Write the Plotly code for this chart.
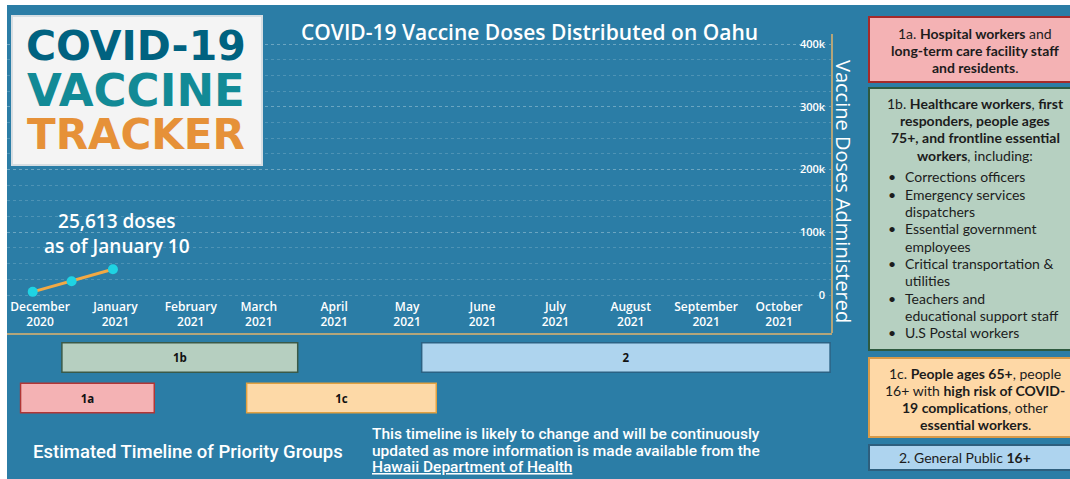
import plotly.graph_objects as go
import pandas as pd

W, H = 1070, 479

# ---------------- data ----------------
dose_dates = ["2020-12-12", "2020-12-28", "2021-01-14"]
doses = [5000, 22000, 41000]

month_ticks = ["2020-12-15", "2021-01-15", "2021-02-15", "2021-03-15", "2021-04-15",
               "2021-05-15", "2021-06-15", "2021-07-15", "2021-08-15", "2021-09-15",
               "2021-10-15"]
month_labels = ["December<br>2020", "January<br>2021", "February<br>2021", "March<br>2021",
                "April<br>2021", "May<br>2021", "June<br>2021", "July<br>2021",
                "August<br>2021", "September<br>2021", "October<br>2021"]
dose_ticks = [0, 100000, 200000, 300000, 400000]
dose_labels = ["0", "100k", "200k", "300k", "400k"]
minor_ticks = [25000 * i for i in range(1, 17)]

groups = ["1a", "1b", "1c", "2"]
group_start = ["2020-12-07", "2020-12-24", "2021-03-10", "2021-05-21"]
group_end = ["2021-01-31", "2021-03-31", "2021-05-27", "2021-11-05"]
group_row = [0, 1, 0, 1]
group_fill = ["#f4b2b4", "#b6cfc0", "#fdd9a7", "#aed4ee"]
group_border = ["#b03636", "#3a5a48", "#e0a040", "#2b6284"]

panel_1a = ["1a. <b>Hospital workers</b> and",
            "<b>long-term care facility staff</b>",
            "<b>and residents</b>."]
panel_1b = ["1b. <b>Healthcare workers</b>, <b>first</b>",
            "<b>responders, people ages</b>",
            "<b>75+, and frontline essential</b>",
            "<b>workers</b>, including:"]
bullets_1b = [("•", "Corrections officers"),
              ("•", "Emergency services"),
              ("", "dispatchers"),
              ("•", "Essential government"),
              ("", "employees"),
              ("•", "Critical transportation &"),
              ("", "utilities"),
              ("•", "Teachers and"),
              ("", "educational support staff"),
              ("•", "U.S Postal workers")]
panel_1c = ["1c. <b>People ages 65+</b>, people",
            "16+ with <b>high risk of COVID-</b>",
            "<b>19 complications</b>, other",
            "<b>essential workers</b>."]
panel_2 = ["2. General Public <b>16+</b>"]

note_lines = ["This timeline is likely to change and will be continuously",
              "updated as more information is made available from the",
              "<u>Hawaii Department of Health</u>"]

# ---------------- helpers ----------------
BG = "#2b7da6"
AXIS_LINE = "#b3a57a"
GRID = "rgba(255,255,255,0.17)"


def X(p):
    return p / W


def Y(p):
    return 1 - p / H


fig = go.Figure()

fig.add_trace(go.Scatter(
    x=dose_dates, y=doses, mode="lines+markers",
    line=dict(color="#f2a944", width=3),
    marker=dict(color="#1fd3e3", size=10),
    xaxis="x", yaxis="y", hoverinfo="skip"))

starts = pd.to_datetime(group_start)
ends = pd.to_datetime(group_end)
durations = [(e - s).total_seconds() * 1000 for s, e in zip(starts, ends)]

fig.add_trace(go.Bar(
    orientation="h", y=group_row, x=durations, base=group_start,
    width=0.73, text=groups, textposition="inside", insidetextanchor="middle",
    textangle=0, constraintext="none",
    textfont=dict(color="#111111", size=11.5, family="Open Sans", weight="bold"),
    marker=dict(color=group_fill, line=dict(color=group_border, width=1.5)),
    xaxis="x2", yaxis="y2", hoverinfo="skip"))

zero_px, per100k = 295, 62.75
plot_top, plot_bot = 34, 333
y_lo = -(plot_bot - zero_px) / per100k * 100000
y_hi = (zero_px - plot_top) / per100k * 100000

tickfont = dict(color="white", size=12, family="Open Sans", weight=600)

fig.update_layout(
    width=W, height=H, autosize=False,
    margin=dict(l=0, r=0, t=0, b=0),
    paper_bgcolor=BG, plot_bgcolor=BG,
    showlegend=False,
    xaxis=dict(domain=[X(7), X(832)], type="date",
               range=["2020-12-01 10:00", "2021-11-05 19:00"],
               tickmode="array", tickvals=month_ticks, ticktext=month_labels,
               ticklabelposition="inside", ticklabelstandoff=4, ticks="", showgrid=False,
               showline=True, linecolor=AXIS_LINE, linewidth=1.5,
               tickfont=tickfont, anchor="y", fixedrange=True),
    yaxis=dict(domain=[Y(plot_bot), Y(plot_top)], range=[y_lo, y_hi],
               anchor="free", position=X(832), side="left",
               tickmode="array", tickvals=dose_ticks, ticktext=dose_labels,
               ticks="", ticklabelstandoff=4,
               showgrid=True, gridcolor=GRID, griddash="dot", gridwidth=1,
               minor=dict(tickmode="array", tickvals=minor_ticks, showgrid=True,
                          gridcolor=GRID, griddash="dot", gridwidth=1),
               zeroline=False, showline=True, linecolor=AXIS_LINE, linewidth=1.5,
               tickfont=dict(color="white", size=11, family="Open Sans", weight=600),
               fixedrange=True),
    xaxis2=dict(domain=[X(7), X(832)], type="date", matches="x", visible=False,
                anchor="y2", fixedrange=True),
    yaxis2=dict(domain=[Y(418.25), Y(337.25)], range=[-0.5, 1.5], visible=False,
                anchor="x2", fixedrange=True),
)

shapes = []
# white page edges
shapes.append(dict(type="rect", xref="paper", yref="paper", x0=0, x1=1, y0=Y(5), y1=1,
                   fillcolor="white", line=dict(width=0), layer="above"))
shapes.append(dict(type="rect", xref="paper", yref="paper", x0=0, x1=X(7), y0=0, y1=1,
                   fillcolor="white", line=dict(width=0), layer="above"))
# logo box
shapes.append(dict(type="rect", xref="paper", yref="paper", x0=X(12), x1=X(262),
                   y0=Y(165), y1=Y(16), fillcolor="#f4f4f4",
                   line=dict(color="#d6dee3", width=2), layer="above"))
# right panels
panels = [(17, 82, "#f4b2b4", "#a52a2a"),
          (88, 350, "#b6d0c1", "#2e5a40"),
          (358, 437, "#fed8a6", "#d89a48"),
          (445, 470, "#aed4ef", "#2e5f7e")]
for top, bot, fill, border in panels:
    shapes.append(dict(type="rect", xref="paper", yref="paper", x0=X(869), x1=X(1082),
                       y0=Y(bot), y1=Y(top), fillcolor=fill,
                       line=dict(color=border, width=2), layer="above"))
fig.update_layout(shapes=shapes)

ann = []


def text(x, y, s, size, color="white", family="Open Sans", xanchor="center",
         weight=None, angle=0):
    f = dict(size=size, color=color, family=family)
    if weight is not None:
        f["weight"] = weight
    ann.append(dict(xref="paper", yref="paper", x=X(x), y=Y(y), text=s,
                    showarrow=False, xanchor=xanchor, yanchor="middle",
                    font=f, textangle=angle))


# logo
text(136, 46, "COVID-19", 41, color="#006280", family="DejaVu Sans", weight="bold")
text(136, 90, "VACCINE", 45, color="#128a96", family="DejaVu Sans", weight="bold")
text(136, 134, "TRACKER", 42, color="#e69138", family="DejaVu Sans", weight="bold")

# title
text(529, 32, "COVID-19 Vaccine Doses Distributed on Oahu", 21, weight=600)

# axis title
text(843, 191, "Vaccine Doses Administered", 20, angle=90, weight=500)

# annotation near last point
ann.append(dict(xref="x", yref="y", x=dose_dates[-1], y=doses[-1],
                text="25,613 doses<br>as of January 10", showarrow=False,
                xanchor="center", yanchor="middle", xshift=4, yshift=36,
                font=dict(size=19, color="white", family="Open Sans", weight=600)))

# bottom texts
text(188, 452, "Estimated Timeline of Priority Groups", 18.5, family="Roboto", weight=500)
for i, line in enumerate(note_lines):
    text(370, 434 + 16.5 * i, line, 15.5, family="Roboto", xanchor="left", weight=500)

# panels
PC = "#1c1c1c"
for i, line in enumerate(panel_1a):
    text(975, 33 + 17.5 * i, line, 14, color=PC, family="Lato")
for i, line in enumerate(panel_1b):
    text(975, 103 + 17.5 * i, line, 14, color=PC, family="Lato")
for i, (b, line) in enumerate(bullets_1b):
    yy = 177 + 17.3 * i
    if b:
        text(892, yy, b, 14, color=PC, family="Lato")
    text(903, yy, line, 14, color=PC, family="Lato", xanchor="left")
for i, line in enumerate(panel_1c):
    text(975, 373 + 17.3 * i, line, 14, color=PC, family="Lato")
for i, line in enumerate(panel_2):
    text(965, 457, line, 14, color=PC, family="Lato")

fig.update_layout(annotations=ann)

fig.write_html("out.html", config={"displayModeBar": False},
               post_script="document.body.style.margin='0px';")
